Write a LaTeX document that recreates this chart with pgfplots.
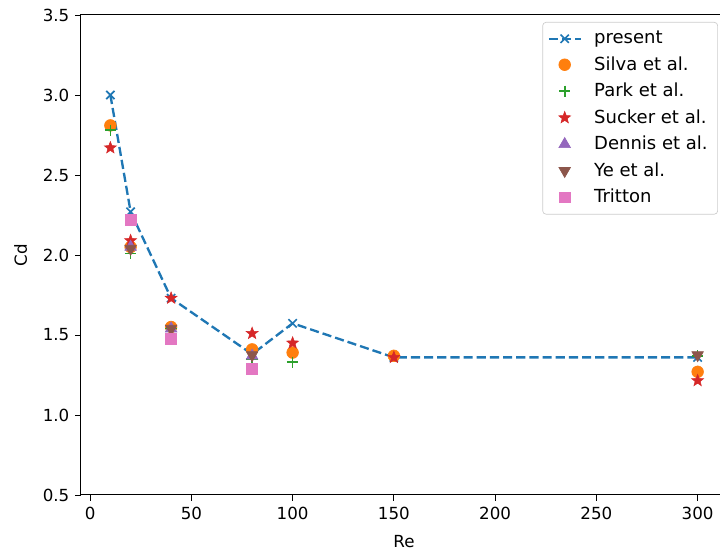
\documentclass[border=0pt]{standalone}
\usepackage{pgfplots}
\pgfplotsset{compat=1.18}
\usepackage{fontspec}
\setmainfont{DejaVu Sans}
\definecolor{c0}{HTML}{1F77B4}
\definecolor{c1}{HTML}{FF7F0E}
\definecolor{c2}{HTML}{2CA02C}
\definecolor{c3}{HTML}{D62728}
\definecolor{c4}{HTML}{9467BD}
\definecolor{c5}{HTML}{8C564B}
\definecolor{c6}{HTML}{E377C2}
\pgfdeclareplotmark{fstar}{%
  \pgfpathmoveto{\pgfpointpolar{90}{\pgfplotmarksize}}%
  \pgfpathlineto{\pgfpointpolar{126}{0.42\pgfplotmarksize}}%
  \pgfpathlineto{\pgfpointpolar{162}{\pgfplotmarksize}}%
  \pgfpathlineto{\pgfpointpolar{198}{0.42\pgfplotmarksize}}%
  \pgfpathlineto{\pgfpointpolar{234}{\pgfplotmarksize}}%
  \pgfpathlineto{\pgfpointpolar{270}{0.42\pgfplotmarksize}}%
  \pgfpathlineto{\pgfpointpolar{306}{\pgfplotmarksize}}%
  \pgfpathlineto{\pgfpointpolar{342}{0.42\pgfplotmarksize}}%
  \pgfpathlineto{\pgfpointpolar{18}{\pgfplotmarksize}}%
  \pgfpathlineto{\pgfpointpolar{54}{0.42\pgfplotmarksize}}%
  \pgfpathclose\pgfusepathqfillstroke}
\pgfplotsset{
  mklegend/.style={legend image code/.code={\path (0pt,0pt) (19pt,0pt); \draw plot coordinates {(9.5pt,0pt)};}}
}
\begin{document}
\begin{tikzpicture}
\useasboundingbox (-48.6pt,-34.8pt) rectangle (383.4pt,297pt);
\begin{axis}[
  scale only axis, width=387.6pt, height=288pt,
  xmin=-4.5, xmax=314.5, ymin=0.5, ymax=3.5,
  xtick={0,50,100,150,200,250,300},
  ytick={0.5,1.0,1.5,2.0,2.5,3.0,3.5},
  yticklabel style={/pgf/number format/.cd,fixed,fixed zerofill,precision=1},
  /pgf/number format/assume math mode=true,
  tick align=outside, xtick pos=left, ytick pos=left,
  major tick length=3.5pt,
  tick style={black, line width=0.5pt},
  axis line style={line width=0.6pt},
  ticklabel style={font=\fontsize{10}{12}\selectfont},
  xlabel={Re}, ylabel={Cd},
  label style={font=\fontsize{10}{12}\selectfont},
  xlabel style={yshift=-2.5pt},
  ylabel style={yshift=2.5pt},
  legend style={at={(1,1)}, anchor=north east, xshift=-5.4pt, yshift=-4.2pt,
    draw=black!20, rounded corners=2pt, fill=white,
    font=\fontsize{10.8}{12.5}\selectfont, row sep=2.2pt, column sep=4.5pt, inner xsep=3pt, inner ysep=3.3pt,
    nodes={inner xsep=3pt}},
  legend cell align=left,
]
\addplot[c0, dash pattern=on 5.5pt off 2.4pt, line width=1.4pt, mark=x, mark size=3.5pt, mark options={solid, line width=1pt},
  legend image code/.code={\draw[mark repeat=2, mark phase=2] plot coordinates {(0pt,0pt) (9.5pt,0pt) (19pt,0pt)};}]
 coordinates {(10,3.0) (20,2.27) (40,1.73) (80,1.38) (100,1.573) (150,1.36) (300,1.36)};
\addlegendentry{present}
\addplot[only marks, mark=*, mark size=3.5pt, color=c1, mark options={draw=c1, fill=c1}, mklegend]
 coordinates {(10,2.81) (20,2.05) (40,1.55) (80,1.41) (100,1.39) (150,1.37) (300,1.27)};
\addlegendentry{Silva et al.}
\addplot[only marks, mark=+, mark size=3.4pt, color=c2, mark options={line width=1pt}, mklegend]
 coordinates {(10,2.78) (20,2.01) (40,1.54) (80,1.35) (100,1.33) (300,1.37)};
\addlegendentry{Park et al.}
\addplot[only marks, mark=fstar, mark size=3.8pt, color=c3, mark options={draw=c3, fill=c3, line width=0.3pt}, mklegend]
 coordinates {(10,2.67) (20,2.09) (40,1.73) (80,1.51) (100,1.45) (150,1.36) (300,1.215)};
\addlegendentry{Sucker et al.}
\addplot[only marks, mark=triangle*, mark size=4pt, color=c4, mark options={draw=c4, fill=c4}, mklegend]
 coordinates {(20,2.05) (40,1.54) (80,1.37)};
\addlegendentry{Dennis et al.}
\addplot[only marks, mark=triangle*, mark size=4pt, color=c5, mark options={draw=c5, fill=c5, rotate=180}, mklegend]
 coordinates {(20,2.04) (40,1.54) (80,1.375) (300,1.375)};
\addlegendentry{Ye et al.}
\addplot[only marks, mark=square*, mark size=3.2pt, color=c6, mark options={draw=c6, fill=c6}, mklegend]
 coordinates {(20,2.22) (40,1.475) (80,1.29)};
\addlegendentry{Tritton}
\end{axis}
\end{tikzpicture}
\end{document}
